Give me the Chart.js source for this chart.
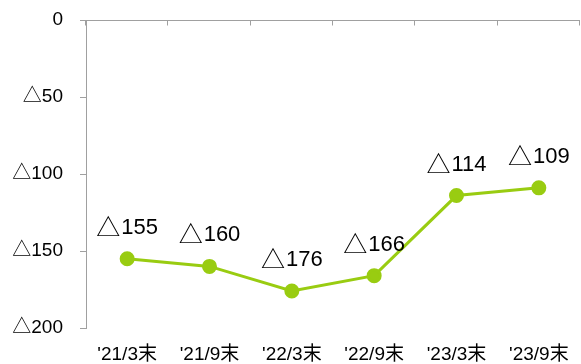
<!DOCTYPE html>
<html>
<head>
<meta charset="utf-8">
<script src="https://cdn.jsdelivr.net/npm/chart.js@4"></script>
<style>
  html, body { margin: 0; padding: 0; background: #fff; }
  #wrap { width: 581px; height: 364px; }
</style>
</head>
<body>
<div id="wrap"><canvas id="myChart" width="581" height="364"></canvas></div>
<script>
// chart data
const periods = ["'21/3末", "'21/9末", "'22/3末", "'22/9末", "'23/3末", "'23/9末"];
const values = [-155, -160, -176, -166, -114, -109];
const yTicks = [0, -50, -100, -150, -200];

const lineColor = "#99cc11";
const axisColor = "#a0a0a0";
const fontFam = "'Liberation Sans', 'Noto Sans CJK JP', sans-serif";
const triFont = "'Noto Sans CJK JP', sans-serif";

function tri(v) {
  return v === 0 ? "0" : "\u25B3" + Math.abs(v);
}

// axis line at value 0 with category tick marks pointing down
const zeroAxis = {
  id: "zeroAxis",
  afterDraw(chart) {
    const ctx = chart.ctx;
    const ys = chart.scales.y;
    const y0 = Math.round(ys.getPixelForValue(0)) + 0.5;
    const left = chart.chartArea.left;
    const right = chart.chartArea.right;
    const step = (right - left) / periods.length;
    ctx.save();
    ctx.strokeStyle = axisColor;
    ctx.lineWidth = 1;
    ctx.beginPath();
    ctx.moveTo(left, y0);
    ctx.lineTo(right, y0);
    for (let i = 0; i <= periods.length; i++) {
      const x = Math.round(left + i * step) - 0.5;
      ctx.moveTo(x, y0);
      ctx.lineTo(x, y0 + 5);
    }
    ctx.stroke();
    ctx.restore();
  }
};

// value labels above each point: bigger triangle, then the number
const pointLabels = {
  id: "pointLabels",
  afterDatasetsDraw(chart) {
    const ctx = chart.ctx;
    const meta = chart.getDatasetMeta(0);
    ctx.save();
    ctx.fillStyle = "#000";
    ctx.textBaseline = "alphabetic";
    ctx.textAlign = "left";
    meta.data.forEach(function (pt, i) {
      const num = String(Math.abs(values[i]));
      ctx.font = "24px " + triFont;
      const wt = ctx.measureText("\u25B3").width - 1;
      ctx.font = "22px " + fontFam;
      const wn = ctx.measureText(num).width;
      const x0 = pt.x + 1 - (wt + wn) / 2;
      const base = pt.y - 25;
      ctx.font = "24px " + triFont;
      ctx.fillText("\u25B3", x0 - 2, base + 2);
      ctx.font = "22px " + fontFam;
      ctx.fillText(num, x0 + wt, base);
    });
    ctx.restore();
  }
};

new Chart("myChart", {
  type: "line",
  data: {
    labels: periods,
    datasets: [{
      data: values,
      borderColor: lineColor,
      backgroundColor: lineColor,
      borderWidth: 3,
      pointRadius: 6,
      pointHoverRadius: 6,
      pointBackgroundColor: lineColor,
      pointBorderColor: lineColor,
      tension: 0,
      clip: false
    }]
  },
  options: {
    responsive: false,
    animation: false,
    layout: { autoPadding: false, padding: { top: 20, right: 1, bottom: 0, left: 0 } },
    plugins: {
      legend: { display: false },
      tooltip: { enabled: false }
    },
    scales: {
      x: {
        offset: true,
        grid: { display: false, drawTicks: false },
        border: { display: false },
        ticks: {
          color: "#000",
          font: { size: 19, family: fontFam },
          padding: 15,
          maxRotation: 0,
          autoSkip: false
        },
        afterFit(scale) {
          scale.height = 36;
          scale.paddingLeft = 0;
          scale.paddingRight = 0;
        }
      },
      y: {
        min: -200,
        max: 0,
        grid: { drawOnChartArea: false, color: axisColor, tickLength: 6 },
        border: { display: true, color: axisColor },
        afterBuildTicks(scale) {
          scale.ticks = yTicks.map(function (v) { return { value: v }; });
        },
        ticks: {
          color: "#000",
          font: { size: 19, family: fontFam },
          padding: 17,
          callback: function (v) { return tri(v); }
        },
        afterFit(scale) {
          scale.width = 86;
          scale.paddingTop = 0;
          scale.paddingBottom = 0;
        }
      }
    }
  },
  plugins: [zeroAxis, pointLabels]
});
</script>
</body>
</html>
